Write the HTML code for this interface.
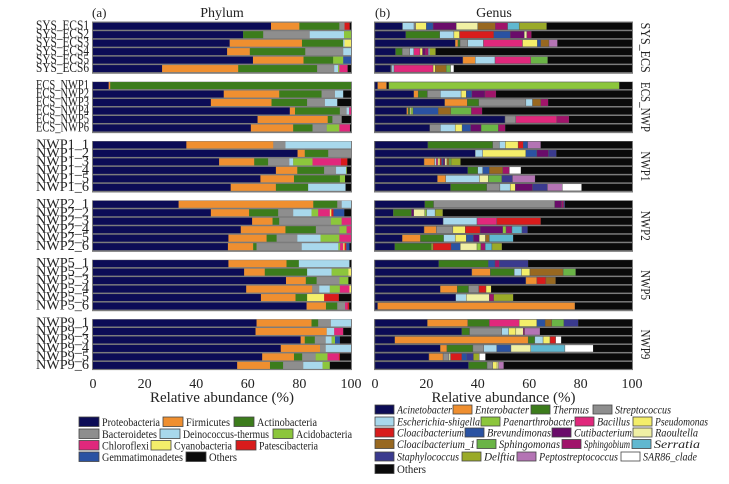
<!DOCTYPE html>
<html><head><meta charset="utf-8"><style>
html,body{margin:0;padding:0;background:#fff;width:729px;height:484px;overflow:hidden}
svg{display:block;font-family:"Liberation Serif",serif}
</style></head><body>
<svg id="chart" width="729" height="484" viewBox="0 0 729 484" xmlns="http://www.w3.org/2000/svg"></svg>
<script>
const samples=["SYS_ECS1","SYS_ECS2","SYS_ECS3","SYS_ECS4","SYS_ECS5","SYS_ECS6","ECS_NWP1","ECS_NWP2","ECS_NWP3","ECS_NWP4","ECS_NWP5","ECS_NWP6","NWP1_1","NWP1_2","NWP1_3","NWP1_4","NWP1_5","NWP1_6","NWP2_1","NWP2_2","NWP2_3","NWP2_4","NWP2_5","NWP2_6","NWP5_1","NWP5_2","NWP5_3","NWP5_4","NWP5_5","NWP5_6","NWP9_1","NWP9_2","NWP9_3","NWP9_4","NWP9_5","NWP9_6"];
const groups=["SYS_ECS","ECS_NWP","NWP1","NWP2","NWP5","NWP9"];
const xTicks=[0,20,40,60,80,100];
const phylumNames=["Proteobacteria","Firmicutes","Actinobacteria","Bacteroidetes","Deinococcus-thermus","Acidobacteria","Chloroflexi","Cyanobacteria","Patescibacteria","Gemmatimonadetes","Others"];
const proteobacteria=[69,58.2,53,52,62,26.8,6.1,50.7,45.7,76.3,63.8,61.2,36.2,79.3,48.9,70.9,64.9,53.4,33.2,45.7,61.7,57.3,52.5,52.3,52.5,58.6,74.8,59.4,65.1,82.8,63.4,63,80.5,72.8,65.6,55.9];
const firmicutes=[11,0,28,8.8,19.6,29.5,0.6,21.5,23.5,2,27.2,16.4,33.7,2.8,13.6,8.3,13,17.5,52.2,14.8,7.9,17.3,14.8,9.8,22.5,8,7.7,25.6,13.4,7.5,21.3,27.6,1.6,15.2,12.3,12.7];
const actinobacteria=[15.5,7.8,16,21.5,11.5,30.6,93.3,16.4,13.8,17.4,1.8,7.5,0,9.1,5.4,10.4,17.8,12.5,9.3,11.3,2.6,11.8,3.9,1.3,4.8,16.4,4.2,0,4.5,4.4,2.6,0,3.9,0,3.2,5.1];
const bacteroidetes=[2,18,0,14.7,0,6.6,0,5.2,6.9,2.6,3.6,5.5,4.7,8.8,8.2,4.6,0,0,1.7,5.8,20,9.1,8,17.5,0,0,8.8,2.7,0,3,4.9,0,4.2,2.2,5.2,7.8];
const deinococcus=[0,13.3,0.5,3,0,1.5,0,3.2,4.8,1,0,0,25.4,0,1.5,3.9,0,14.5,3.6,7.1,0,0,9,14.2,19.6,9.5,0,4.1,0,0,7.8,2.9,2.3,9.8,0,7.5];
const acidobacteria=[0,2.7,0,0,3.9,0.5,0,0,0,0,0,4.9,0,0,7.5,0.3,2,0,0,2.6,4.2,2.8,7.3,0.7,0,6.5,3.5,3.9,0,0,0,0,1.3,0,4.6,2.8];
const chloroflexi=[0,0,0,0,0,3.2,0,0,0,0.7,0,4.1,0,0,11,0,0,0,0,4.5,3.6,1.7,4.5,1.2,0,0,0,3.7,0,1,0,3.5,0,0,4.4,0];
const cyanobacteria=[0,0,2.5,0,0,0,0,0,0,0,0,0,0,0,0,0,0,0,0,0.6,0,0,0,0.5,0,1,0,0.6,6.6,0,0,0,0,0,0,0];
const patescibacteria=[2,0,0,0,0,0,0,0,0,0,0,0,0,0,2.5,0,0,0,0,0.8,0,0,0,0.7,0,0,0,0,5.7,0.6,0,0,0,0,0.4,0];
const gemmatimonadetes=[0,0,0,0,3,0,0,0,0,0,0,0,0,0,0,0,0,0,0,4.2,0,0,0,1.2,0,0,0,0,0,0,0,0,1.9,0,0,0];
const phylumOthers=[0.5,0,0,0,0,1.3,0,3,5.3,0,3.6,0.4,0,0,1.4,1.6,2.3,2.1,0,2.6,0,0,0,0.6,0.6,0,1,0,4.7,0.7,0,3,4.3,0,4.3,8.2];
const phylumSeries=[proteobacteria,firmicutes,actinobacteria,bacteroidetes,deinococcus,acidobacteria,chloroflexi,cyanobacteria,patescibacteria,gemmatimonadetes,phylumOthers];
const genusNames=["Acinetobacter","Enterobacter","Thermus","Streptococcus","Escherichia-shigella","Paenarthrobacter","Bacillus","Pseudomonas","Cloacibacterium","Brevundimonas","Cutibacterium","Raoultella","Cloacibacterium_1","Sphingomonas","Sphingobium","Serratia","Staphylococcus","Delftia","Peptostreptococcus","SAR86_clade","Others"];
// per-sample genus segments: [genus index, percent]; remainder = Others
const genusSegments=[
[[0,10.7],[4,4.5],[3,0.6],[7,4.2],[9,2.6],[10,9],[11,8.4],[12,6.8],[14,4.8],[15,4.5],[17,10.7]],
[[0,12],[2,13.2],[4,5.5],[7,2.2],[8,13.3],[9,6.4],[10,5.5],[11,1],[14,1.8]],
[[0,31.2],[1,1.1],[2,0.8],[3,3],[4,6.1],[6,15.2],[7,5.8],[9,1.3],[12,3.2],[18,3.3]],
[[0,8],[2,2.6],[3,2.9],[4,1.6],[6,2.4],[7,1],[10,1],[14,1.3],[4,0.5],[17,2.3]],
[[0,34.2],[1,4.8],[4,7.7],[6,13.9],[13,6.6]],
[[0,6.1],[3,0.5],[4,0.8],[6,15.2],[7,0.9],[12,4.2],[13,1.7],[19,1.3]],
[[0,1],[1,3.5],[20,0.9],[5,89.7]],
[[0,15.1],[1,1.7],[2,3.6],[3,5],[4,8.1],[7,2],[9,2.2],[10,5.1],[14,4.3]],
[[0,27.1],[1,8.8],[2,4.5],[3,18.3],[4,2.6],[12,3.2],[14,2.9]],
[[0,12.3],[1,0.6],[2,0.6],[11,0.5],[5,0.8],[9,9.8],[12,4.9],[13,8],[14,4.2]],
[[0,50.6],[3,4.2],[6,15.9],[14,4.8]],
[[0,21.3],[3,4.1],[4,5.8],[7,2.7],[9,3.3],[10,4.1],[13,6.7],[14,2.7]],
[[0,20.6],[2,25.2],[3,2.6],[4,2.3],[7,5],[8,2],[9,1.7],[18,5.1]],
[[0,39],[4,2.9],[7,16.8],[9,4.3],[10,4.5],[16,3.1]],
[[0,19.1],[1,4.1],[4,0.6],[6,0.7],[7,0.8],[8,0.6],[9,0.6],[10,0.7],[11,0.8],[12,0.8],[13,0.8],[17,3.7]],
[[0,36.1],[2,3.9],[4,1.9],[9,2.6],[12,5.2],[14,2.6],[19,4.5]],
[[0,24.3],[1,3.2],[4,13.1],[11,3.5],[13,5.2],[16,4.2],[18,8.8]],
[[0,29.4],[2,14.1],[3,5.1],[4,4],[7,2],[10,6.7],[16,5.8],[18,5.8],[19,7.5]],
[[0,19.4],[2,3.4],[3,47.1],[10,2.7],[14,0.8],[16,0.5]],
[[0,7.1],[2,7.1],[10,0.9],[11,4.3],[5,0.7],[4,3.3],[17,3]],
[[0,26.5],[4,13.2],[6,7.7],[8,17.1]],
[[0,19.1],[1,4.8],[3,6.4],[7,4.8],[8,5.8],[10,8.8],[5,1.3],[14,2.3],[15,3.9],[16,2.2]],
[[0,10.6],[1,7.1],[2,9],[4,4.5],[7,4.3],[9,2.8],[10,2.3],[11,2.4],[12,1.5],[15,9.3]],
[[0,7.7],[2,14.2],[17,0.7],[8,7],[9,3.6],[11,6.5],[5,1.5],[14,1.7],[15,2.6],[17,3.9]],
[[0,24.8],[2,19.3],[9,2.6],[14,1.7],[16,11.2]],
[[0,37.7],[1,7.2],[2,9.3],[4,2.8],[7,3.3],[12,12.9],[13,4.9]],
[[0,58.7],[1,4.3],[8,3.5],[12,3.8]],
[[0,25.4],[1,6.6],[2,4.4],[3,4],[8,2.8],[7,2]],
[[0,31.4],[4,4.1],[11,9],[14,1.7],[17,7.6]],
[[0,1],[1,76.8]],
[[0,20.4],[1,15.7],[2,8.4],[6,11.6],[7,6.9],[9,3.2],[12,2.6],[13,4.7],[16,5.6]],
[[0,33.8],[2,3],[3,12.5],[4,2.7],[7,2.8],[11,2.9],[14,0.5],[18,6]],
[[0,7.7],[1,51.9],[2,2.6],[4,3.2],[7,2.7],[8,2.2],[19,2.2]],
[[0,25.4],[1,2.6],[2,10.1],[3,4.2],[4,5.1],[9,5.5],[11,7.7],[15,13.3],[19,11]],
[[0,21],[1,5.5],[3,2.3],[11,0.6],[8,4.4],[9,1.9],[16,2.6],[17,2.3],[19,2.4]],
[[0,36.4],[2,7.2],[3,2.2],[7,1.7],[11,0.6],[18,2]]
];
const phylumColors=["#0c0c56","#ef8f30","#3c7c1c","#8e8e8e","#a8d8ec","#8cc63c","#e0287c","#f4ee6a","#d81c1c","#2a52a2","#0a0a0a"];
const genusColors=["#0c0c56","#ef8f30","#3c7c1c","#8e8e8e","#a8d8ec","#8cc63c","#e0287c","#f4ee6a","#d81c1c","#2a52a2","#6a0c6a","#f0f0a4","#986820","#6ab446","#a0146a","#60b8d0","#3a3a8e","#9aaa28","#b474b4","#ffffff","#0a0a0a"];

const NS="http://www.w3.org/2000/svg";
const svg=document.getElementById('chart');
function mk(tag,attrs,parent){const e=document.createElementNS(NS,tag);for(const k in attrs)e.setAttribute(k,attrs[k]);(parent||svg).appendChild(e);return e;}
const ROW0=22.7,PITCH=8.48,BARH=7;
function rowTop(i){return ROW0+(i+Math.floor(i/6))*PITCH;}
function gapTop(g){return ROW0+(g*7+6)*PITCH;}
const A={x0:93,x1:351},B={x0:375,x1:632};
function sx(ax,v){return ax.x0+(ax.x1-ax.x0)*Math.min(v,100)/100;}

function frame(ax,name){
  const g=mk('g',{});
  
  
  const bg=mk('rect',{x:ax.x0-1,y:ROW0-1.2,width:ax.x1-ax.x0+2,height:rowTop(35)+BARH+1.2-(ROW0-1.2),fill:'#7c7c7c'},g);
  
  
  for(let k=0;k<5;k++){
    const w=mk('rect',{x:ax.x0-1,y:gapTop(k)+0.2,width:ax.x1-ax.x0+2,height:PITCH-0.6,fill:'#fff'},g);
    
    
  }
  return g;
}
const gA=frame(A,'phylum-plot');
samples.forEach((s,i)=>{
  let cum=0;const y=rowTop(i);
  phylumSeries.forEach((arr,c)=>{
    const v=arr[i];if(v<=0)return;
    const r=mk('rect',{x:sx(A,cum),y:y,width:Math.max(0,sx(A,cum+v)-sx(A,cum)),height:BARH,fill:phylumColors[c]},gA);
    
    
    cum+=v;
  });
  if(cum<100){const r=mk('rect',{x:sx(A,cum),y:y,width:sx(A,100)-sx(A,cum),height:BARH,fill:phylumColors[10]},gA);
    
    }
  const t=mk('text',{x:89,y:y+BARH,'text-anchor':'end','font-size':'13.5',fill:'#222',textLength:53,lengthAdjust:'spacingAndGlyphs'});
  t.textContent=s;
  
  
});
const gB=frame(B,'genus-plot');
samples.forEach((s,i)=>{
  let cum=0;const y=rowTop(i);
  genusSegments[i].forEach(([c,v])=>{
    const r=mk('rect',{x:sx(B,cum),y:y,width:Math.max(0,sx(B,cum+v)-sx(B,cum)),height:BARH,fill:genusColors[c],stroke:'#555','stroke-width':0.4},gB);
    
    
    cum+=v;
  });
  const r=mk('rect',{x:sx(B,cum),y:y,width:Math.max(0,sx(B,100)-sx(B,cum)),height:BARH,fill:genusColors[20]},gB);
  
  
});
groups.forEach((gname,g)=>{
  const cy=ROW0+(g*7+3)*PITCH-0.5;
  const len=gname.length>5?50:30;
  const t=mk('text',{x:0,y:0,'text-anchor':'middle','font-size':'14',fill:'#222',textLength:len,lengthAdjust:'spacingAndGlyphs',transform:`translate(641,${cy}) rotate(90)`});
  t.textContent=gname;
  
  
});
[A,B].forEach((ax,k)=>{
  xTicks.forEach(v=>{
    const t=mk('text',{x:sx(ax,v),y:388,'text-anchor':'middle','font-size':'14',fill:'#222'});
    t.textContent=v;
    
    
  });
  const tt=mk('text',{x:(ax.x0+ax.x1)/2,y:402,'text-anchor':'middle','font-size':'15',fill:'#222'});
  tt.textContent='Relative abundance (%)';
  
  
});
function label(x,y,txt,name,size,anchor){const t=mk('text',{x:x,y:y,'font-size':size||13,fill:'#222','text-anchor':anchor||'start'});t.textContent=txt;return t;}
label(92,17,'(a)','panel-a-label',13);
label(222,17,'Phylum','panel-a-title',14,'middle');
label(375,17,'(b)','panel-b-label',13);
label(494,17,'Genus','panel-b-title',14,'middle');
const phylumLegendPos=[[79,417,160],[163,417,230],[234,417,317],[79,429,157],[160,429,269],[273,429,352],[79,440.5,149],[151,440.5,232],[236,440.5,318],[79,452,183],[186,452,237]];
phylumNames.forEach((n,c)=>{
  const [x,y,e]=phylumLegendPos[c];
  const g=mk('g',{});
  
  
  mk('rect',{x:x,y:y,width:20,height:9.5,fill:phylumColors[c],stroke:'#444','stroke-width':0.8},g);
  const t=mk('text',{x:x+23,y:y+9,'font-size':'12',fill:'#222',textLength:e-(x+23),lengthAdjust:'spacingAndGlyphs'},g);t.textContent=n;
});
const genusLegendPos=[[375,405,452],[453,405,529],[531,405,589],[593,405,671],[375,417,480],[481,417,574],[575,417,630],[633,417,708],[375,428,464],[465,428,551],[552,428,632],[633,428,698],[375,439.5,475],[477,439.5,560],[562,439.5,630],[632,439.5,700],[375,452,459],[462,452,515],[517,452,618],[621,452,697],[375,464.5,426]];
genusNames.forEach((n,c)=>{
  const [x,y,e]=genusLegendPos[c];
  const g=mk('g',{});
  
  
  mk('rect',{x:x,y:y,width:19,height:9,fill:genusColors[c],stroke:'#444','stroke-width':0.8},g);
  const t=mk('text',{x:x+22,y:y+8.5,'font-size':'12',fill:'#222','font-style':n==='Others'?'normal':'italic',textLength:e-(x+22),lengthAdjust:'spacingAndGlyphs'},g);t.textContent=n;
});
</script>
</body></html>
